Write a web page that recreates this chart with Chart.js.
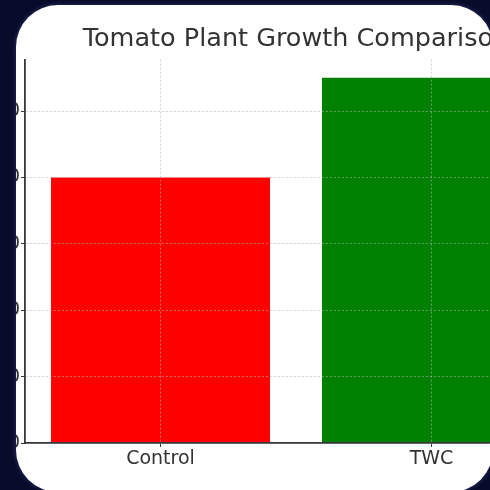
<!DOCTYPE html>
<html>
<head>
<meta charset="utf-8">
<script src="https://cdn.jsdelivr.net/npm/chart.js@4"></script>
<style>
  html, body { margin: 0; padding: 0; }
  body { width: 490px; height: 490px; background: #090b2b; position: relative; overflow: hidden; }
  #card {
    position: absolute; left: 16px; top: 5px; width: 477px; height: 487px;
    background: #fff; border-radius: 42px; overflow: hidden;
    box-shadow: 0 0 5px rgba(110, 130, 220, 0.35);
  }
  #myChart { position: absolute; left: -16px; top: -5px; }
</style>
</head>
<body>
<div id="card">
  <canvas id="myChart" width="600" height="490"></canvas>
</div>
<script>
const titleText = 'Tomato Plant Growth Comparison';
const groups = ['Control', 'TWC'];
const growth = [40, 55];
const barColors = ['#ff0000', '#008000'];
const yTicks = [0, 10, 20, 30, 40, 50];

const gridColor = 'rgba(176,176,176,0.6)';
const axisColor = '#383838';

const ctx = document.getElementById('myChart').getContext('2d');
const myChart = new Chart(ctx, {
    type: 'bar',
    data: {
        labels: groups,
        datasets: [{
            label: '',
            data: growth,
            backgroundColor: barColors,
            borderWidth: 0,
            barPercentage: 1,
            categoryPercentage: 0.808
        }]
    },
    options: {
        responsive: false,
        animation: false,
        layout: {
            padding: { left: 15, right: 33, top: 0, bottom: 0 }
        },
        plugins: {
            legend: { display: false },
            tooltip: { enabled: false },
            title: {
                display: true,
                fullSize: false,
                text: titleText,
                color: '#333333',
                font: { family: 'DejaVu Sans', size: 25.5, weight: 'normal', lineHeight: 1.2 },
                padding: { top: 24, bottom: 5 }
            }
        },
        scales: {
            x: {
                offset: true,
                afterFit: (scale) => { scale.height = 47; },
                grid: {
                    display: true,
                    offset: false,
                    color: gridColor,
                    lineWidth: 1,
                    tickLength: 4,
                    tickColor: axisColor,
                    z: 1
                },
                border: { display: true, color: axisColor, width: 1.8, dash: [2, 2], z: 2 },
                ticks: {
                    color: '#333333',
                    padding: 1,
                    font: { family: 'DejaVu Sans', size: 19 }
                }
            },
            y: {
                min: 0,
                max: 57.75,
                afterFit: (scale) => { scale.width = 10; },
                afterBuildTicks: (scale) => {
                    scale.ticks = yTicks.map(v => ({ value: v }));
                },
                grid: {
                    display: true,
                    color: gridColor,
                    lineWidth: 1,
                    tickLength: 4,
                    tickColor: axisColor,
                    z: 1
                },
                border: { display: true, color: axisColor, width: 1.8, dash: [2, 2], z: 2 },
                ticks: {
                    color: '#333333',
                    padding: 1,
                    font: { family: 'DejaVu Sans', size: 19 }
                }
            }
        }
    }
});
</script>
</body>
</html>
